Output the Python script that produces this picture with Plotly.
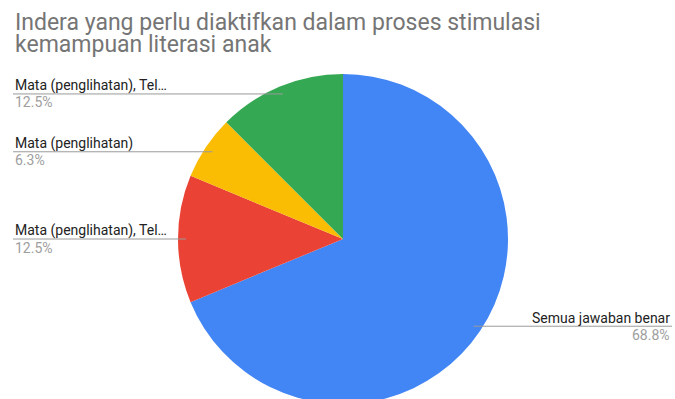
import math
import plotly.graph_objects as go

W, H = 675, 410

title_lines = ["Indera yang perlu diaktifkan dalam proses stimulasi", "kemampuan literasi anak"]
categories = ["Semua jawaban benar", "Mata (penglihatan), Tel…", "Mata (penglihatan)", "Mata (penglihatan), Tel…"]
counts = [11, 2, 1, 2]
pct_labels = ["68.8%", "12.5%", "6.3%", "12.5%"]
colors = ["#4285F4", "#EA4335", "#FBBC04", "#34A853"]

# geometry (pixels)
cx, cy, R = 343, 239, 165
r_dot = 157
left_x, right_x = 13, 672

fig = go.Figure()
fig.add_trace(go.Pie(
    labels=[str(i) for i in range(len(categories))],
    values=counts,
    text=categories,
    sort=False,
    direction="clockwise",
    rotation=0,
    textinfo="none",
    hoverinfo="text+percent",
    marker=dict(colors=colors, line=dict(width=0)),
    showlegend=False,
    domain=dict(x=[(cx - R) / W, (cx + R) / W], y=[(H - cy - R) / H, (H - cy + R) / H]),
))

total = sum(counts)
cum = 0
dots_x, dots_y = [], []
shapes, annotations = [], []
for name, c, pct in zip(categories, counts, pct_labels):
    mid = (cum + c / 2) / total * 2 * math.pi
    cum += c
    dx = cx + r_dot * math.sin(mid)
    dy = cy - r_dot * math.cos(mid)
    dots_x.append(dx)
    dots_y.append(dy)
    if dx >= cx:
        x0, x1, xa, tx = dx, right_x, "right", right_x
    else:
        x0, x1, xa, tx = left_x, dx, "left", left_x
    shapes.append(dict(type="line", xref="x", yref="y", x0=x0, x1=x1, y0=dy, y1=dy,
                       line=dict(color="#9a9a9a", width=1), layer="above"))
    annotations.append(dict(x=tx, y=dy - 8.5, xref="x", yref="y", text=name, showarrow=False,
                            xanchor=xa, yanchor="middle",
                            font=dict(family="Roboto", size=14, color="#222222")))
    annotations.append(dict(x=tx, y=dy + 8.5, xref="x", yref="y", text=pct, showarrow=False,
                            xanchor=xa, yanchor="middle",
                            font=dict(family="Roboto", size=14, color="#9e9e9e")))

fig.add_trace(go.Scatter(x=dots_x, y=dots_y, mode="markers", hoverinfo="skip",
                         marker=dict(size=5, color="#9e9e9e"), showlegend=False))

title_y = [22, 44]
for t, y in zip(title_lines, title_y):
    annotations.append(dict(x=13, y=y, xref="x", yref="y", text=t, showarrow=False,
                            xanchor="left", yanchor="middle",
                            font=dict(family="Roboto", size=23, color="#757575")))

fig.update_layout(
    width=W, height=H,
    margin=dict(l=0, r=0, t=0, b=0),
    paper_bgcolor="white", plot_bgcolor="rgba(0,0,0,0)",
    xaxis=dict(range=[0, W], visible=False, fixedrange=True),
    yaxis=dict(range=[H, 0], visible=False, fixedrange=True),
    shapes=shapes, annotations=annotations,
)

fig.write_html("out.html", config={"displayModeBar": False},
               post_script="document.documentElement.style.overflow='hidden';document.body.style.overflow='hidden';document.body.style.margin='0';")
